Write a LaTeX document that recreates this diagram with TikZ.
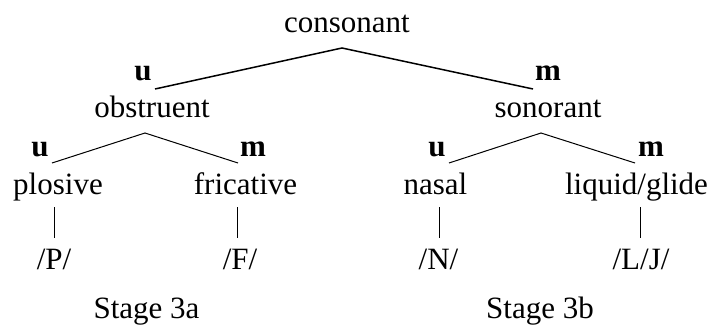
\documentclass[tikz,border=0pt]{standalone}
\usepackage{fontspec}
\setmainfont{Liberation Serif}
\begin{document}
\begin{tikzpicture}[x=1pt,y=-1pt,
  lbl/.style={anchor=base,inner sep=0pt,font=\fontsize{31}{36}\selectfont},
  mk/.style={anchor=base,inner sep=0pt,font=\fontsize{31}{36}\selectfont\bfseries},
  topline/.style={line width=1.5pt},
  subline/.style={line width=1pt},
  barline/.style={line width=0.8pt}]
\useasboundingbox (0,0) rectangle (712,326);
% labels
\node[lbl] (cons) at (347,33) {consonant};
\node[mk] (u1) at (143,81) {u};
\node[mk] (m1) at (548,81) {m};
\node[lbl] (obs) at (152,118) {obstruent};
\node[lbl] (son) at (548,118) {sonorant};
\node[mk] (u2) at (40,157) {u};
\node[mk] (m2) at (253,157) {m};
\node[mk] (u3) at (437,157) {u};
\node[mk] (m3) at (651,157) {m};
\node[lbl] (plo) at (58,194) {plosive};
\node[lbl] (fri) at (245.5,194) {fricative};
\node[lbl] (nas) at (435.5,194) {nasal};
\node[lbl] (liq) at (636.5,194) {liquid/glide};
\node[lbl] (P) at (54,269) {/P/};
\node[lbl] (F) at (240,269) {/F/};
\node[lbl] (N) at (438.5,269) {/N/};
\node[lbl] (LJ) at (641,269) {/L/J/};
\node[lbl] (s3a) at (146.5,318.5) {Stage 3a};
\node[lbl] (s3b) at (540,318.5) {Stage 3b};
% connector points
\coordinate (cA) at (342,48);
\coordinate (cL) at (155,89);
\coordinate (cR) at (533,89);
\coordinate (oA) at (145,133);
\coordinate (oL) at (52,163);
\coordinate (oR) at (238,163);
\coordinate (sA) at (541,133);
\coordinate (sL) at (449,163);
\coordinate (sR) at (635,163);
\coordinate (pT) at (54,207);  \coordinate (pB) at (54,238);
\coordinate (fT) at (237,207); \coordinate (fB) at (237,238);
\coordinate (nT) at (439,207); \coordinate (nB) at (439,238);
\coordinate (lT) at (640,207); \coordinate (lB) at (640,238);
% connectors
\draw[topline] (cL) -- (cA) -- (cR);
\draw[subline] (oL) -- (oA) -- (oR);
\draw[subline] (sL) -- (sA) -- (sR);
\draw[barline] (pT) -- (pB);
\draw[barline] (fT) -- (fB);
\draw[barline] (nT) -- (nB);
\draw[barline] (lT) -- (lB);
\end{tikzpicture}
\end{document}
